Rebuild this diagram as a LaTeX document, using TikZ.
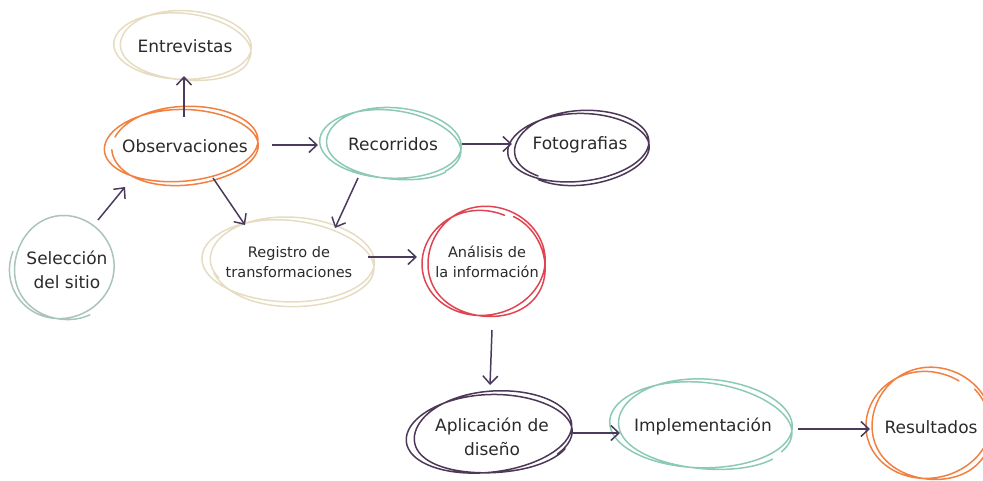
\documentclass[tikz,border=0pt]{standalone}
\usepackage{fontspec}
\setmainfont{DejaVu Sans}
\usetikzlibrary{arrows.meta}
\definecolor{arrc}{HTML}{4A3A5C}
\definecolor{txtc}{HTML}{2A2A2A}
\definecolor{beige}{HTML}{E6DCC2}
\definecolor{orng}{HTML}{F28040}
\definecolor{teal}{HTML}{8CCAB4}
\definecolor{purp}{HTML}{4D3858}
\definecolor{sage}{HTML}{A9C4B8}
\definecolor{redc}{HTML}{E04452}
\tikzset{
  lbl/.style={text=txtc, align=center, inner sep=0pt, font=\fontsize{17}{23.5}\selectfont},
  lblsmall/.style={text=txtc, align=center, inner sep=0pt, font=\fontsize{14.5}{20}\selectfont},
  sketch/.style={line width=1.5pt, line cap=round, line join=round},
  arr/.style={arrc, line width=1.5pt, -{Straight Barb[length=8pt,width=15pt,line width=1.5pt]}}
}
% #1 node, #2 dx, #3 dy, #4 rx, #5 ry, #6 colour, #7 rotation, #8 start, #9 end
\newcommand\sketchring[9]{%
  \begin{scope}[shift={(#1.center)}, shift={(#2,#3)}, rotate=#7]
    \draw[#6, sketch] plot[smooth, domain=#8:#9, samples=140, variable=\t]
      ({#4*(1+0.05*sin(1.5*\t))*cos(\t)}, {#5*(1+0.07*cos(1.3*\t))*sin(\t)});
  \end{scope}}
\begin{document}
\begin{tikzpicture}[x=1pt,y=-1pt]
\useasboundingbox (0,0) rectangle (983,480);

\node[lbl] (ent) at (185,46) {Entrevistas};
\node[lbl] (obs) at (185,146) {Observaciones};
\node[lbl] (rec) at (393,144) {Recorridos};
\node[lbl] (foto) at (580,145) {Fotografias};
\node[lbl] (sel) at (67,270) {Selección\\del sitio};
\node[lblsmall] (reg) at (289,262) {Registro de\\transformaciones};
\node[lblsmall] (ana) at (487,262) {Análisis de\\la información};
\node[lbl] (apl) at (492,437) {Aplicación de\\diseño};
\node[lbl] (imp) at (703,426) {Implementación};
\node[lbl] (res) at (931,427) {Resultados};

\sketchring{ent}{-1}{1}{67}{34}{beige}{-3}{20}{740}
\sketchring{obs}{-2}{0}{75}{37}{orng}{3}{200}{900}
\sketchring{rec}{-1}{1}{69}{35}{teal}{-4}{40}{760}
\sketchring{foto}{0}{3}{69}{35}{purp}{4}{130}{850}
\sketchring{sel}{-4}{0}{51}{51}{sage}{0}{60}{560}
\sketchring{reg}{1}{0}{84}{42}{beige}{-3}{150}{880}
\sketchring{ana}{-2}{2}{60}{54}{redc}{0}{-60}{650}
\sketchring{apl}{-1}{-3}{81}{40}{purp}{5}{30}{760}
\sketchring{imp}{0}{0}{89}{44}{teal}{-3}{40}{750}
\sketchring{res}{-1}{-1}{61}{55}{orng}{0}{-40}{660}

\draw[arr] ([shift={(-1,-29)}]obs.center) -- ([shift={(-1,30)}]ent.center);
\draw[arr] ([shift={(31,-50)}]sel.center) -- ([shift={(-60,41)}]obs.center);
\draw[arr] ([shift={(87,-1)}]obs.center) -- ([shift={(-75,1)}]rec.center);
\draw[arr] ([shift={(69,0)}]rec.center) -- ([shift={(-68,-1)}]foto.center);
\draw[arr] ([shift={(28,32)}]obs.center) -- ([shift={(-44,-37)}]reg.center);
\draw[arr] ([shift={(-35,34)}]rec.center) -- ([shift={(46,-34)}]reg.center);
\draw[arr] ([shift={(79,-5)}]reg.center) -- ([shift={(-70,-5)}]ana.center);
\draw[arr] ([shift={(5,68)}]ana.center) -- ([shift={(-2,-52)}]apl.center);
\draw[arr] ([shift={(81,-4)}]apl.center) -- ([shift={(-83,7)}]imp.center);
\draw[arr] ([shift={(95,3)}]imp.center) -- ([shift={(-61,2)}]res.center);
\end{tikzpicture}
\end{document}
